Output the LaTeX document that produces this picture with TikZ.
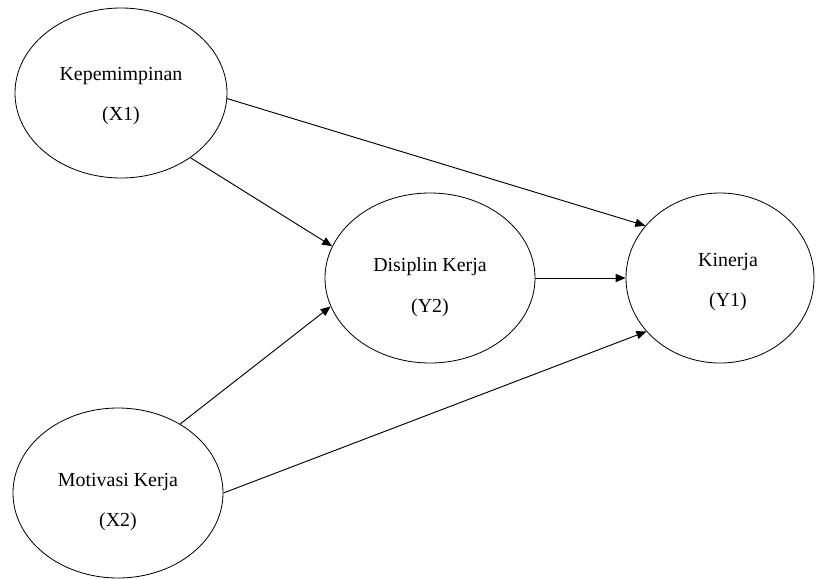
\documentclass[tikz,border=0pt]{standalone}
\usepackage{fontspec}
\setmainfont{Liberation Serif}
\usetikzlibrary{shapes.geometric,arrows.meta}
\begin{document}
\begin{tikzpicture}[x=0.03cm,y=-0.03cm,
  var/.style={draw,ellipse,line width=0.7pt,inner sep=0pt},
  lbl/.style={align=center,inner sep=0pt,font=\fontsize{17}{34.5}\selectfont},
  conn/.style={line width=0.8pt,-{Triangle[length=8.5pt,width=7pt]}}]
\useasboundingbox (0,0) rectangle (826,578);
\node[var,minimum width=6.36cm,minimum height=5.1cm] (x1) at (121,93) {};
\node[var,minimum width=6.3cm,minimum height=5.1cm] (y2) at (430,278) {};
\node[var,minimum width=5.64cm,minimum height=5.1cm] (y1) at (720,278) {};
\node[var,minimum width=6.3cm,minimum height=5.1cm] (x2) at (118,493) {};
\node[lbl] (x1t) at (121,96) {Kepemimpinan\\(X1)};
\node[lbl] (y2t) at (430,287) {Disiplin Kerja\\(Y2)};
\node[lbl] (y1t) at (728,282) {Kinerja\\(Y1)};
\node[lbl] (x2t) at (118,502) {Motivasi Kerja\\(X2)};
\draw[conn] (x1.-43.3) -- (y2.162.5);
\draw[conn] (x1.-3) -- (y1.145);
\draw[conn] (y2) -- (y1);
\draw[conn] (x2.48.5) -- (y2.196.5);
\draw[conn] (x2.0.5) -- (y1.216.5);
\end{tikzpicture}
\end{document}
